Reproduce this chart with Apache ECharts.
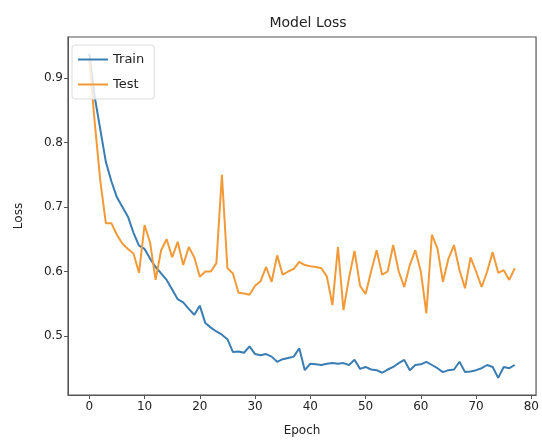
<!DOCTYPE html>
<html>
<head>
<meta charset="utf-8">
<script src="https://cdn.jsdelivr.net/npm/echarts@6/dist/echarts.min.js"></script>
<style>html,body{margin:0;padding:0;background:#fff}#c{width:542px;height:447px}</style>
</head>
<body>
<div id="c"></div>
<script>
const epochs = Array.from({length: 78}, (_, i) => i);
const trainLoss = [0.938,0.87,0.82,0.77,0.74,0.715,0.70,0.685,0.66,0.64,0.635,0.62,0.607,0.597,0.587,0.572,0.557,0.552,0.542,0.533,0.547,0.52,0.513,0.507,0.502,0.495,0.475,0.476,0.474,0.484,0.472,0.47,0.472,0.468,0.46,0.464,0.466,0.468,0.481,0.447,0.457,0.456,0.455,0.457,0.458,0.457,0.458,0.455,0.463,0.449,0.452,0.448,0.447,0.443,0.448,0.452,0.458,0.463,0.447,0.455,0.456,0.46,0.455,0.45,0.444,0.447,0.448,0.46,0.444,0.445,0.447,0.45,0.455,0.452,0.435,0.452,0.45,0.455];
const testLoss = [0.93,0.83,0.74,0.675,0.675,0.657,0.643,0.635,0.628,0.598,0.672,0.645,0.587,0.633,0.65,0.622,0.646,0.61,0.638,0.622,0.592,0.6,0.6,0.613,0.75,0.605,0.597,0.567,0.566,0.564,0.578,0.585,0.607,0.584,0.625,0.595,0.6,0.604,0.615,0.61,0.608,0.607,0.605,0.592,0.548,0.638,0.54,0.59,0.632,0.578,0.565,0.6,0.633,0.595,0.6,0.641,0.6,0.576,0.61,0.633,0.6,0.535,0.657,0.636,0.584,0.62,0.641,0.602,0.574,0.622,0.6,0.576,0.6,0.63,0.598,0.602,0.587,0.605];
const xTicks = [0,10,20,30,40,50,60,70,80];
const yTicks = [0.5,0.6,0.7,0.8,0.9];
const seriesNames = ['Train','Test'];

const font = 'DejaVu Sans';
const chart = echarts.init(document.getElementById('c'));
chart.setOption({
  animation: false,
  backgroundColor: '#fff',
  title: {text: 'Model Loss', left: 303, top: 11, textAlign: 'center',
    textStyle: {fontFamily: font, fontSize: 14, fontWeight: 'normal', color: '#222'}},
  grid: {left: 68, right: 4, top: 37, bottom: 52, show: true, borderColor: '#555', borderWidth: 1.2},
  legend: {
    orient: 'vertical', left: 72, top: 45, data: seriesNames,
    icon: 'rect', itemWidth: 30, itemHeight: 2, itemGap: 12,
    padding: [8, 10, 8, 6], borderColor: '#ddd', borderWidth: 1, borderRadius: 3,
    backgroundColor: 'rgba(255,255,255,0.8)',
    textStyle: {fontFamily: font, fontSize: 13, color: '#222'}
  },
  xAxis: {
    type: 'value', min: -3.85, max: 80.85,
    name: 'Epoch', nameLocation: 'middle', nameGap: 30,
    nameTextStyle: {fontFamily: font, fontSize: 12, color: '#222'},
    axisLine: {show: true, onZero: false, lineStyle: {color: '#555'}},
    axisTick: {show: true, inside: false, length: 4, customValues: xTicks, lineStyle: {color: '#555'}},
    axisLabel: {customValues: xTicks, fontFamily: font, fontSize: 12, color: '#222', margin: 6},
    splitLine: {show: false}
  },
  yAxis: {
    type: 'value', min: 0.4085, max: 0.9636,
    name: 'Loss', nameLocation: 'middle', nameGap: 43, nameRotate: 90,
    nameTextStyle: {fontFamily: font, fontSize: 12, color: '#222'},
    axisLine: {show: true, onZero: false, lineStyle: {color: '#555'}},
    axisTick: {show: true, inside: false, length: 4, customValues: yTicks, lineStyle: {color: '#555'}},
    axisLabel: {customValues: yTicks, fontFamily: font, fontSize: 12, color: '#222', margin: 5,
      formatter: v => v.toFixed(1)},
    splitLine: {show: false}
  },
  series: [
    {name: seriesNames[0], type: 'line', showSymbol: false, symbol: 'none',
     data: epochs.map((e, i) => [e, trainLoss[i]]),
     lineStyle: {width: 2, color: '#3a7db3'}, itemStyle: {color: '#3a7db3'}},
    {name: seriesNames[1], type: 'line', showSymbol: false, symbol: 'none',
     data: epochs.map((e, i) => [e, testLoss[i]]),
     lineStyle: {width: 2, color: '#f29a38'}, itemStyle: {color: '#f29a38'}}
  ]
});
</script>
</body>
</html>
